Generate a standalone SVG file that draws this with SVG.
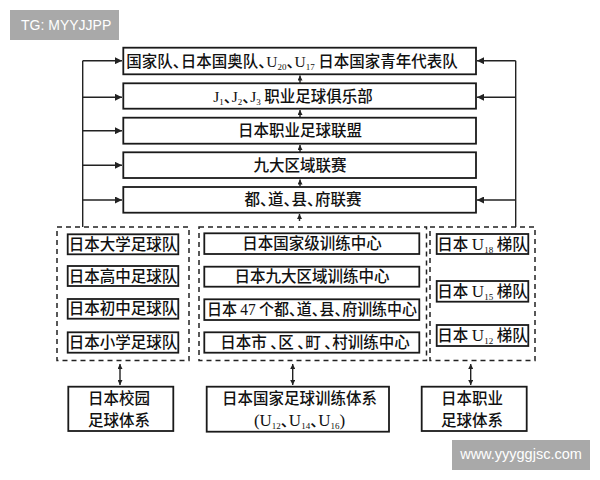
<svg xmlns="http://www.w3.org/2000/svg" width="600" height="480" viewBox="0 0 600 480">
<style>
.box{fill:#fff;stroke:#1a1a1a;stroke-width:1.8}
.dash{fill:none;stroke:#222;stroke-width:1.5;stroke-dasharray:5 4}
.ln{stroke:#222;stroke-width:1.4;fill:none}
.t{font-family:"Noto Sans CJK SC","Noto Sans CJK JP",sans-serif;font-size:15.5px;font-weight:500;fill:#111;text-anchor:middle}
.s{font-family:"Liberation Serif",serif;font-weight:400}
.sub{font-size:9px}
.c{letter-spacing:-7.5px}
.wm{font-family:"Liberation Sans",Arial,sans-serif;fill:#fff}
</style>
<defs>
<marker id="ah" markerUnits="userSpaceOnUse" markerWidth="8" markerHeight="7" refX="7" refY="3.5" orient="auto-start-reverse">
<path d="M0,0 L7,3.5 L0,7 z" fill="#222"/>
</marker>
<marker id="as" markerUnits="userSpaceOnUse" markerWidth="6" markerHeight="5" refX="5" refY="2.5" orient="auto-start-reverse">
<path d="M0,0 L5,2.5 L0,5 z" fill="#222"/>
</marker>
</defs>
<rect width="600" height="480" fill="#fff"/>

<g id="connectors">
<path class="ln" d="M82.7,60.7 V227 M515.7,60.7 V227"/>
<line class="ln" x1="82.7" y1="60.7" x2="122" y2="60.7" marker-end="url(#ah)"/>
<line class="ln" x1="82.7" y1="97.3" x2="122" y2="97.3" marker-end="url(#ah)"/>
<line class="ln" x1="82.7" y1="130.7" x2="122" y2="130.7" marker-end="url(#ah)"/>
<line class="ln" x1="82.7" y1="165.3" x2="122" y2="165.3" marker-end="url(#ah)"/>
<line class="ln" x1="82.7" y1="200" x2="122" y2="200" marker-end="url(#ah)"/>
<line class="ln" x1="515.7" y1="60.7" x2="477" y2="60.7" marker-end="url(#ah)"/>
<line class="ln" x1="515.7" y1="97.3" x2="477" y2="97.3" marker-end="url(#ah)"/>
<line class="ln" x1="515.7" y1="200" x2="477" y2="200" marker-end="url(#ah)"/>
<line class="ln" x1="300" y1="83" x2="300" y2="75.5" marker-end="url(#as)"/>
<line class="ln" x1="300" y1="117.5" x2="300" y2="110" marker-end="url(#as)"/>
<line class="ln" x1="300" y1="152" x2="300" y2="145" marker-end="url(#as)"/>
<line class="ln" x1="300" y1="186.5" x2="300" y2="179.5" marker-end="url(#as)"/>
<line class="ln" x1="299.5" y1="221" x2="299.5" y2="214" marker-end="url(#as)"/>
<line class="ln" x1="120" y1="364" x2="120" y2="385" marker-start="url(#as)" marker-end="url(#as)"/>
<line class="ln" x1="292.7" y1="364" x2="292.7" y2="385" marker-start="url(#as)" marker-end="url(#as)"/>
<line class="ln" x1="470.7" y1="364" x2="470.7" y2="385" marker-start="url(#as)" marker-end="url(#as)"/>
</g>

<g id="n-national">
<rect class="box" x="123.3" y="47.7" width="352.7" height="26.6"/>
<text class="t" x="292" y="66.5">国家队<tspan class="c">、</tspan>日本国奥队<tspan class="c">、</tspan><tspan class="s">U</tspan><tspan class="s sub" dy="3">20</tspan><tspan class="c" dy="-3">、</tspan><tspan class="s">U</tspan><tspan class="s sub" dy="3">17</tspan><tspan dy="-3"> 日本国家青年代表队</tspan></text>
</g>
<g id="n-jleague">
<rect class="box" x="123.3" y="83.3" width="352.7" height="25.4"/>
<text class="t" x="293" y="101.5"><tspan class="s">J</tspan><tspan class="s sub" dy="3">1</tspan><tspan class="c" dy="-3">、</tspan><tspan class="s">J</tspan><tspan class="s sub" dy="3">2</tspan><tspan class="c" dy="-3">、</tspan><tspan class="s">J</tspan><tspan class="s sub" dy="3">3</tspan><tspan dy="-3"> 职业足球俱乐部</tspan></text>
</g>
<g id="n-proleague">
<rect class="box" x="123.3" y="117.7" width="352.7" height="26"/>
<text class="t" x="300" y="136.2">日本职业足球联盟</text>
</g>
<g id="n-nine">
<rect class="box" x="123.3" y="152.3" width="352.7" height="25.7"/>
<text class="t" x="300" y="170.7">九大区域联赛</text>
</g>
<g id="n-pref">
<rect class="box" x="123.3" y="187" width="352.7" height="25.7"/>
<text class="t" x="303" y="205.3">都<tspan class="c">、</tspan>道<tspan class="c">、</tspan>县<tspan class="c">、</tspan>府联赛</text>
</g>

<g id="g-school">
<rect class="dash" x="57" y="227" width="132" height="133.5"/>
<rect class="box" x="67.7" y="234.3" width="110.6" height="20"/>
<text class="t" x="123" y="249.8">日本大学足球队</text>
<rect class="box" x="67.7" y="266" width="110.6" height="20"/>
<text class="t" x="123" y="281.5">日本高中足球队</text>
<rect class="box" x="67.7" y="299" width="110.6" height="19.7"/>
<text class="t" x="123" y="314.3">日本初中足球队</text>
<rect class="box" x="67.7" y="332.3" width="110.6" height="20.4"/>
<text class="t" x="123" y="348">日本小学足球队</text>
</g>

<g id="g-training">
<rect class="dash" x="199" y="227" width="227.5" height="133.5"/>
<rect class="box" x="204.3" y="233.3" width="215" height="20.7"/>
<text class="t" x="312" y="249.2">日本国家级训练中心</text>
<rect class="box" x="204.3" y="266.7" width="215" height="20"/>
<text class="t" x="312" y="282.2">日本九大区域训练中心</text>
<rect class="box" x="204.3" y="299.3" width="215" height="20.7"/>
<text class="t" x="312" y="315.2" textLength="210" lengthAdjust="spacingAndGlyphs">日本 <tspan class="s" font-size="16">47</tspan> 个都<tspan class="c">、</tspan>道<tspan class="c">、</tspan>县<tspan class="c">、</tspan>府训练中心</text>
<rect class="box" x="204.3" y="332.3" width="215" height="20.4"/>
<text class="t" x="315" y="348">日本市 <tspan class="c">、</tspan>区 <tspan class="c">、</tspan>町 <tspan class="c">、</tspan>村训练中心</text>
</g>

<g id="g-ladder">
<rect class="dash" x="430" y="227" width="105" height="133.5"/>
<rect class="box" x="436.7" y="234" width="91.6" height="20"/>
<text class="t" x="482.5" y="249.5">日本 <tspan class="s" font-size="17">U</tspan><tspan class="s sub" dy="3">18</tspan><tspan dy="-3"> 梯队</tspan></text>
<rect class="box" x="436.7" y="281" width="91.6" height="20.7"/>
<text class="t" x="482.5" y="296.8">日本 <tspan class="s" font-size="17">U</tspan><tspan class="s sub" dy="3">15</tspan><tspan dy="-3"> 梯队</tspan></text>
<rect class="box" x="436.7" y="325" width="91.6" height="21"/>
<text class="t" x="482.5" y="341">日本 <tspan class="s" font-size="17">U</tspan><tspan class="s sub" dy="3">12</tspan><tspan dy="-3"> 梯队</tspan></text>
</g>

<g id="n-school-system">
<rect class="box" x="68.3" y="386.7" width="105" height="44.3"/>
<text class="t" x="119" y="403.5">日本校园</text>
<text class="t" x="119" y="426">足球体系</text>
</g>
<g id="n-national-system">
<rect class="box" x="206.7" y="386.7" width="182.3" height="45"/>
<text class="t" x="299.5" y="403.5">日本国家足球训练体系</text>
<text class="t" x="299.5" y="426"><tspan class="s" font-size="17">(U</tspan><tspan class="s sub" dy="3">12</tspan><tspan class="c" dy="-3">、</tspan><tspan class="s" font-size="17">U</tspan><tspan class="s sub" dy="3">14</tspan><tspan class="c" dy="-3">、</tspan><tspan class="s" font-size="17">U</tspan><tspan class="s sub" dy="3">16</tspan><tspan class="s" font-size="17" dy="-3">)</tspan></text>
</g>
<g id="n-pro-system">
<rect class="box" x="421.7" y="386.7" width="105" height="44.3"/>
<text class="t" x="472" y="403.5">日本职业</text>
<text class="t" x="472" y="426">足球体系</text>
</g>

<g id="watermarks">
<rect x="10" y="10" width="109" height="30" fill="#a9a9a9"/>
<text class="wm" x="21" y="30" font-size="14">TG: MYYJJPP</text>
<rect x="452" y="440" width="138" height="30" fill="#a9a9a9"/>
<text class="wm" x="521" y="459" font-size="14.5" text-anchor="middle">www.yyyggjsc.com</text>
</g>
</svg>
